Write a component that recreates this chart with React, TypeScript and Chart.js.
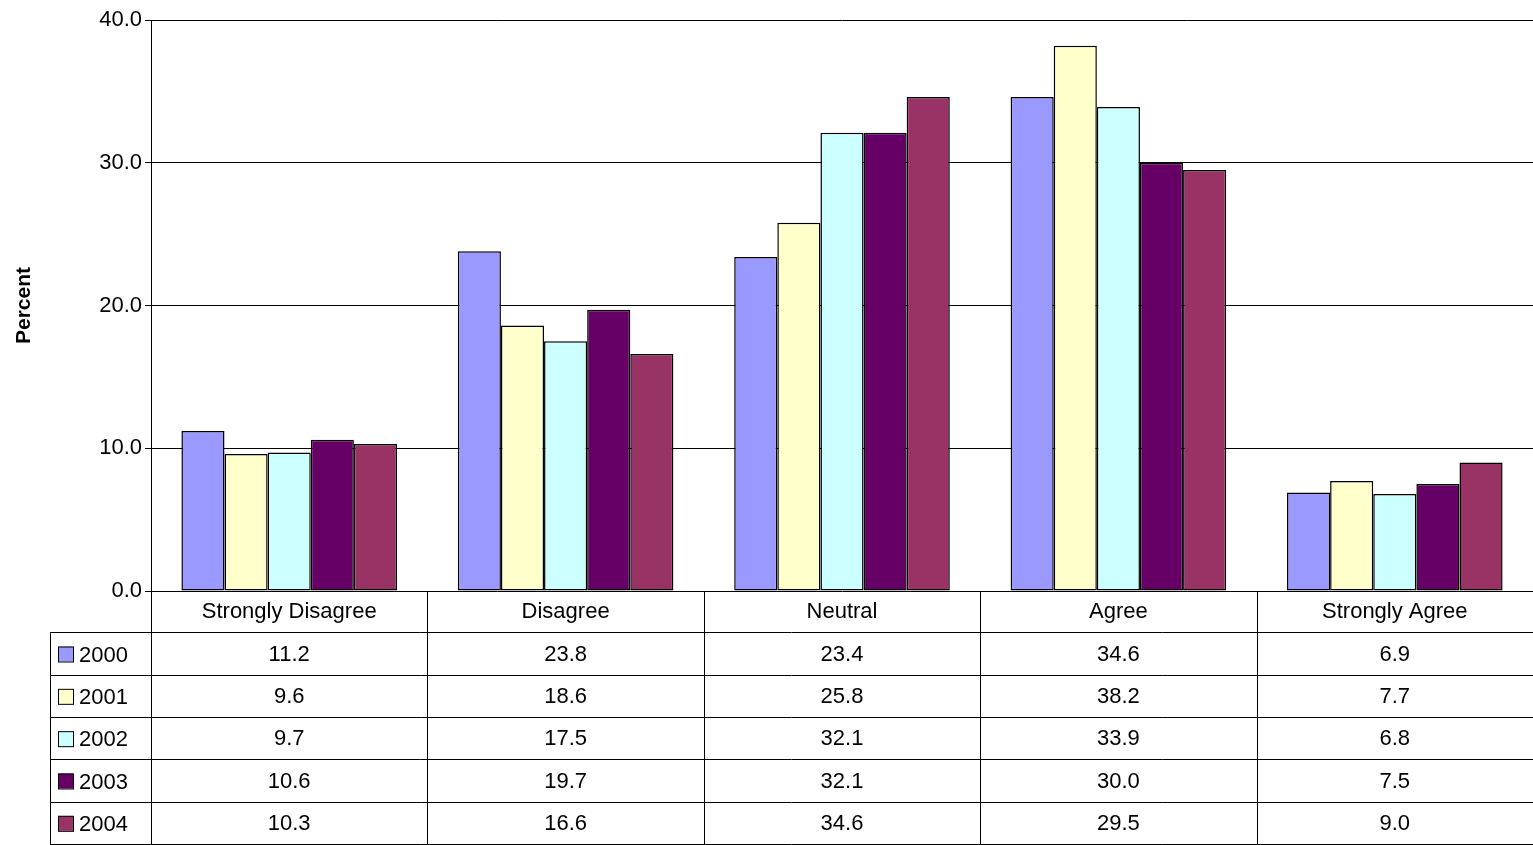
import React, { useEffect, useRef } from 'react';
import { Chart, registerables, ChartConfiguration, Plugin } from 'chart.js';

Chart.register(...registerables);

const categories = ['Strongly Disagree', 'Disagree', 'Neutral', 'Agree', 'Strongly Agree'];
const years = ['2000', '2001', '2002', '2003', '2004'];
const values2000 = [11.2, 23.8, 23.4, 34.6, 6.9];
const values2001 = [9.6, 18.6, 25.8, 38.2, 7.7];
const values2002 = [9.7, 17.5, 32.1, 33.9, 6.8];
const values2003 = [10.6, 19.7, 32.1, 30.0, 7.5];
const values2004 = [10.3, 16.6, 34.6, 29.5, 9.0];
const seriesValues = [values2000, values2001, values2002, values2003, values2004];
const colors = ['#9999FF', '#FFFFCC', '#CCFFFF', '#660066', '#993366'];

const FONT = '"Liberation Sans", Arial, sans-serif';

// draws the Excel-style data table under the plot
const dataTablePlugin: Plugin = {
  id: 'dataTable',
  afterDraw(chart) {
    const { ctx, chartArea } = chart;
    const x = chart.scales.x;
    const left = chartArea.left;
    const right = chartArea.right;
    const top = chartArea.bottom;
    const bottom = chart.height;
    const rowH = (bottom - top) / 6;
    const catW = (right - left) / categories.length;
    const legendLeft = 50;

    ctx.save();
    ctx.strokeStyle = '#000';
    ctx.lineWidth = 1;
    ctx.beginPath();
    for (let i = 0; i <= categories.length; i++) {
      const vx = Math.round(left + i * catW) + 0.5;
      ctx.moveTo(vx, top);
      ctx.lineTo(vx, bottom);
    }
    ctx.moveTo(legendLeft + 0.5, top + rowH);
    ctx.lineTo(legendLeft + 0.5, bottom);
    for (let r = 1; r <= 6; r++) {
      const hy = Math.round(top + r * rowH) - 0.5;
      ctx.moveTo(legendLeft, hy);
      ctx.lineTo(right, hy);
    }
    ctx.stroke();

    ctx.fillStyle = '#000';
    ctx.font = `22px ${FONT}`;
    ctx.textAlign = 'center';
    ctx.textBaseline = 'middle';
    categories.forEach((c, i) => {
      ctx.fillText(c, x.getPixelForValue(i), top + rowH / 2);
    });
    seriesValues.forEach((vals, s) => {
      const cy = top + (s + 1.5) * rowH;
      vals.forEach((v, i) => {
        ctx.fillStyle = '#000';
        ctx.textAlign = 'center';
        ctx.fillText(v.toFixed(1), x.getPixelForValue(i), cy);
      });
      ctx.fillStyle = colors[s];
      ctx.fillRect(legendLeft + 8, cy - 8, 15, 15);
      ctx.strokeRect(legendLeft + 8.5, cy - 7.5, 15, 15);
      ctx.fillStyle = '#000';
      ctx.textAlign = 'left';
      ctx.fillText(years[s], legendLeft + 29, cy + 1);
    });
    ctx.restore();
  },
};

const App: React.FC = () => {
  const canvasRef = useRef<HTMLCanvasElement>(null);
  const chartRef = useRef<Chart | null>(null);

  useEffect(() => {
    document.body.style.margin = '0';
    if (!canvasRef.current) return;
    if (chartRef.current) chartRef.current.destroy();

    const config: ChartConfiguration = {
      type: 'bar',
      data: {
        labels: categories,
        datasets: years.map((y, i) => ({
          label: y,
          data: seriesValues[i],
          backgroundColor: colors[i],
          borderColor: '#000',
          borderWidth: 1.5,
          borderSkipped: false,
          categoryPercentage: 0.78,
          barPercentage: 1,
        })),
      },
      options: {
        responsive: true,
        maintainAspectRatio: false,
        animation: false,
        layout: { padding: { top: 20, right: 0, bottom: 246, left: 8 } },
        plugins: { legend: { display: false }, tooltip: { enabled: false } },
        scales: {
          x: {
            ticks: { display: false },
            grid: { display: false },
            border: { display: false },
          },
          y: {
            min: 0,
            max: 40,
            afterFit: (s: any) => { s.width = 143; },
            ticks: {
              stepSize: 10,
              color: '#000',
              font: { family: FONT, size: 22 },
              callback: (v) => Number(v).toFixed(1),
            },
            grid: { color: '#000', lineWidth: 1, tickLength: 6 },
            border: { color: '#000' },
            title: {
              display: true,
              text: 'Percent',
              color: '#000',
              font: { family: FONT, size: 21, weight: 'bold' },
            },
          },
        },
      },
      plugins: [dataTablePlugin],
    };

    chartRef.current = new Chart(canvasRef.current, config);
    return () => {
      chartRef.current?.destroy();
      chartRef.current = null;
    };
  }, []);

  return (
    <div style={{ position: 'relative', width: '1533px', height: '845px', background: '#fff' }}>
      <canvas ref={canvasRef} />
    </div>
  );
};

export default App;
